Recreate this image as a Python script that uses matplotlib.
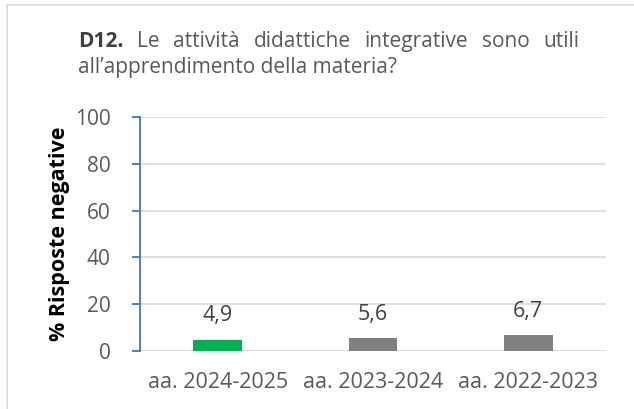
import matplotlib
matplotlib.use("Agg")
import matplotlib.pyplot as plt
from matplotlib.patches import Rectangle

# data
categories = ["aa. 2024-2025", "aa. 2023-2024", "aa. 2022-2023"]
values = [4.9, 5.6, 6.7]
value_labels = ["4,9", "5,6", "6,7"]
bar_colors = ["#00B050", "#808080", "#808080"]
yticks = [0, 20, 40, 60, 80, 100]

plt.rcParams["font.family"] = ["Open Sans", "DejaVu Sans"]
text_grey = "#595959"

W, H = 634, 409
fig = plt.figure(figsize=(W / 100, H / 100), dpi=100)

# light frame round the chart
fig.patches.append(Rectangle((7 / W, -0.05), 1.0, 1 - 5 / H + 0.05,
                             transform=fig.transFigure, fill=False,
                             edgecolor="#D9D9D9", linewidth=1.2))

ax = fig.add_axes([140 / W, 1 - 351 / H, 466 / W, 234 / H])
x = range(len(categories))
ax.bar(x, values, width=0.315, color=bar_colors, zorder=3)
for xi, v, lab in zip(x, values, value_labels):
    ax.annotate(lab, (xi, v), xytext=(0, 9.5), textcoords="offset points",
                ha="center", va="bottom", fontsize=15.5, color="#404040")

ax.set_xlim(-0.5, len(categories) - 0.5)
ax.set_ylim(0, 100)
ax.set_yticks(yticks)
ax.set_xticks(list(x))
ax.set_xticklabels(categories)
ax.yaxis.grid(True, color="#D9D9D9", linewidth=1.2, zorder=0)
ax.set_axisbelow(True)
for s in ["top", "right", "bottom"]:
    ax.spines[s].set_visible(False)
ax.spines["left"].set_color("#4472C4")
ax.spines["left"].set_linewidth(1.3)
ax.tick_params(axis="y", colors="#4472C4", length=6, width=1.3,
               labelcolor=text_grey, labelsize=15, pad=15)
ax.tick_params(axis="x", length=0, labelcolor=text_grey, labelsize=15.5, pad=15)
ax.set_ylabel("% Risposte negative", fontsize=15.5, fontweight="bold",
              color="black", labelpad=4)

# justified title, first line word by word
renderer = fig.canvas.get_renderer()
left_px, right_px = 78, 579
y1 = 1 - 47 / H
words = ["D12.", "Le", "attività", "didattiche", "integrative", "sono", "utili"]
objs = []
for i, w in enumerate(words):
    t = fig.text(0, y1, w, fontsize=15, color=text_grey if i else "#404040",
                 fontweight="bold" if i == 0 else "normal", va="baseline")
    objs.append(t)
widths = [t.get_window_extent(renderer).width for t in objs]
gap = (right_px - left_px - sum(widths)) / (len(words) - 1)
pos = left_px
for t, wd in zip(objs, widths):
    t.set_x(pos / W)
    pos += wd + gap
fig.text(left_px / W, 1 - 73 / H, "all\u2019apprendimento della materia?",
         fontsize=15, color=text_grey, va="baseline")

fig.savefig("out.png", dpi=100)
